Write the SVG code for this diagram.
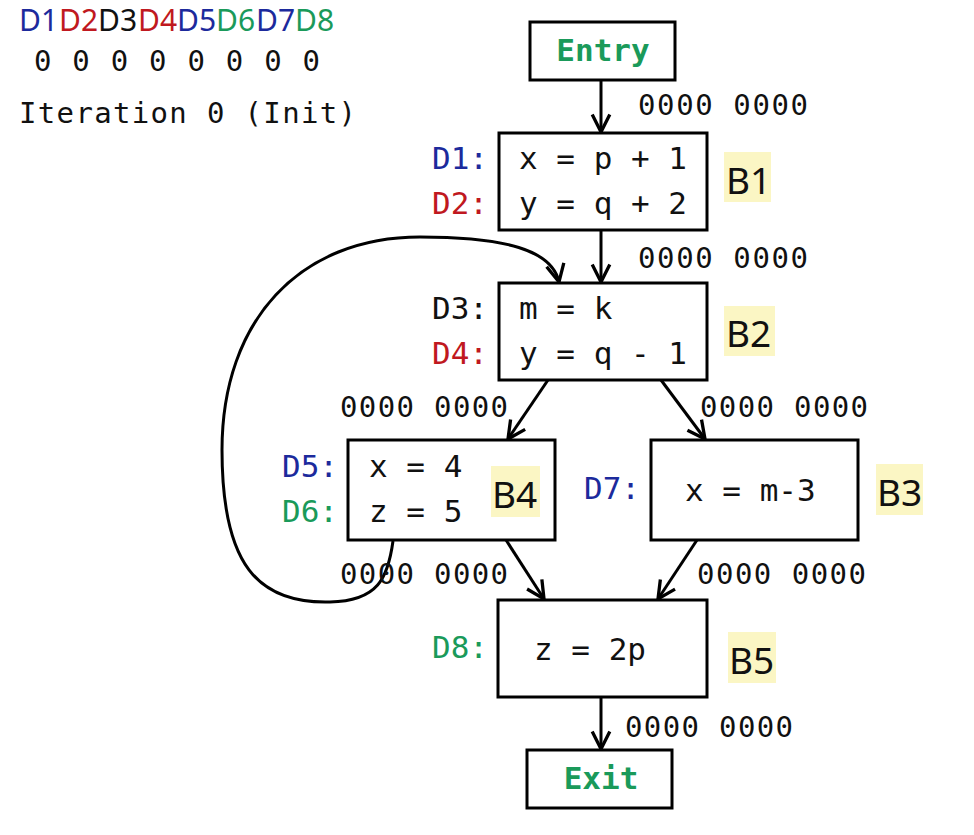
<svg xmlns="http://www.w3.org/2000/svg" width="974" height="835" viewBox="0 0 974 835">
<defs>
<marker id="ah" viewBox="0 0 20 20" refX="18" refY="10" markerWidth="22" markerHeight="22" markerUnits="userSpaceOnUse" orient="auto">
<path d="M2,2 L18,10 L2,18" fill="none" stroke="#000" stroke-width="3"/>
</marker>
</defs>
<style>
.box{fill:#fff;stroke:#000;stroke-width:3}
.m{font-family:"DejaVu Sans Mono","Liberation Mono",monospace;font-size:31px;fill:#111}
.lbl{font-family:"DejaVu Sans Mono","Liberation Mono",monospace;font-size:29px;fill:#111}
.g{fill:#1a9a5a}
.b{fill:#1c2a9c}
.r{fill:#c01820}
.k{fill:#111}
.bn{font-family:"Noto Sans","Liberation Sans",sans-serif;font-size:37px;fill:#111}
.hl{fill:#fbf6c4}
.hd{font-family:"Noto Sans","Liberation Sans",sans-serif;font-size:30px}
.e{stroke:#000;stroke-width:3;fill:none;marker-end:url(#ah)}
</style>
<rect width="974" height="835" fill="#fff"/>
<g id="header">
<text class="hd b" x="19" y="31">D1</text>
<text class="hd r" x="59" y="31">D2</text>
<text class="hd k" x="98" y="31">D3</text>
<text class="hd r" x="138" y="31">D4</text>
<text class="hd b" x="177" y="31">D5</text>
<text class="hd g" x="216" y="31">D6</text>
<text class="hd b" x="256" y="31">D7</text>
<text class="hd g" x="295" y="31">D8</text>
<text class="lbl" x="34" y="71" textLength="286">0 0 0 0 0 0 0 0</text>
<text class="lbl" x="19" y="123" textLength="337">Iteration 0 (Init)</text>
</g>
<g id="connectors">
<line class="e" x1="601" y1="80" x2="601" y2="132"/>
<line class="e" x1="601" y1="230" x2="601" y2="282"/>
<line class="e" x1="548" y1="380" x2="508" y2="439"/>
<line class="e" x1="661" y1="380" x2="705" y2="439"/>
<line class="e" x1="506" y1="540" x2="544" y2="599"/>
<line class="e" x1="697" y1="540" x2="658" y2="599"/>
<line class="e" x1="601" y1="697" x2="601" y2="749"/>
<path class="e" d="M393,541 C388,578 378,601 330,602 C258,604 222,565 222,450 C222,320 300,237 420,237 C505,237 552,250 559,282"/>
<text class="lbl" x="638" y="115" textLength="170">0000 0000</text>
<text class="lbl" x="638" y="268" textLength="170">0000 0000</text>
<text class="lbl" x="340" y="417" textLength="168">0000 0000</text>
<text class="lbl" x="700" y="417" textLength="168">0000 0000</text>
<text class="lbl" x="340" y="584" textLength="168">0000 0000</text>
<text class="lbl" x="697" y="584" textLength="169">0000 0000</text>
<text class="lbl" x="625" y="737" textLength="168">0000 0000</text>
</g>
<g id="entry">
<rect class="box" x="530" y="22" width="145" height="58"/>
<text class="m g" x="603" y="61" text-anchor="middle" font-weight="bold" font-size="30">Entry</text>
</g>
<g id="B1">
<rect class="box" x="499" y="133" width="208" height="97"/>
<text class="m b" x="432" y="169">D1:</text>
<text class="m r" x="432" y="214">D2:</text>
<text class="m" x="519" y="169">x = p + 1</text>
<text class="m" x="519" y="214">y = q + 2</text>
<rect class="hl" x="724" y="152" width="47" height="50"/>
<text class="bn" x="726" y="194">B1</text>
</g>
<g id="B2">
<rect class="box" x="499" y="283" width="208" height="97"/>
<text class="m k" x="432" y="319">D3:</text>
<text class="m r" x="432" y="364">D4:</text>
<text class="m" x="519" y="319">m = k</text>
<text class="m" x="519" y="364">y = q - 1</text>
<rect class="hl" x="724" y="306" width="51" height="50"/>
<text class="bn" x="726" y="347">B2</text>
</g>
<g id="B4">
<rect class="box" x="348" y="440" width="207" height="100"/>
<text class="m b" x="282" y="477">D5:</text>
<text class="m g" x="282" y="522">D6:</text>
<text class="m" x="369" y="477">x = 4</text>
<text class="m" x="369" y="522">z = 5</text>
<rect class="hl" x="491" y="466" width="49" height="51"/>
<text class="bn" x="492" y="508">B4</text>
</g>
<g id="B3">
<rect class="box" x="651" y="440" width="207" height="100"/>
<text class="m b" x="584" y="499">D7:</text>
<text class="m" x="685" y="501">x = m-3</text>
<rect class="hl" x="876" y="464" width="47" height="51"/>
<text class="bn" x="877" y="506">B3</text>
</g>
<g id="B5">
<rect class="box" x="498" y="600" width="209" height="97"/>
<text class="m g" x="432" y="658">D8:</text>
<text class="m" x="534" y="660">z = 2p</text>
<rect class="hl" x="728" y="632" width="48" height="51"/>
<text class="bn" x="729" y="674">B5</text>
</g>
<g id="exit">
<rect class="box" x="527" y="750" width="145" height="58"/>
<text class="m g" x="601" y="789" text-anchor="middle" font-weight="bold" font-size="30">Exit</text>
</g>
</svg>
